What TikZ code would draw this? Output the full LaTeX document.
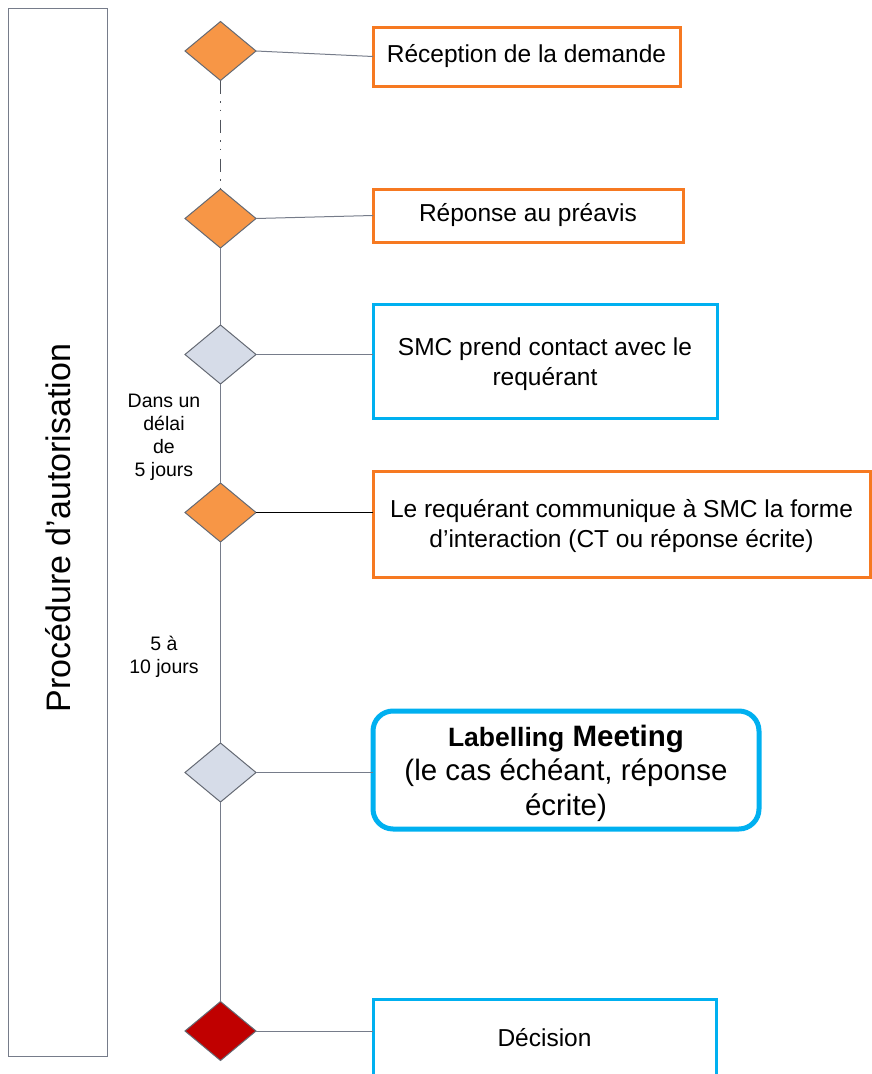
\documentclass[tikz,border=0pt]{standalone}
\usepackage{fontspec}
\setmainfont{Liberation Sans}
\usetikzlibrary{shapes.geometric}

\definecolor{stepline}{RGB}{246,121,33}
\definecolor{stepfill}{RGB}{247,150,70}
\definecolor{smcblue}{RGB}{0,176,240}
\definecolor{softgray}{RGB}{214,220,232}
\definecolor{decisionred}{RGB}{192,0,0}
\definecolor{wire}{RGB}{118,124,138}
\definecolor{rim}{RGB}{100,105,115}

\begin{document}
\begin{tikzpicture}[x=1pt,y=-1pt,
  every node/.style={inner sep=0pt, outer sep=0pt, text=black},
  lane/.style={draw=wire, line width=1pt, fill=white},
  boxtext/.style={font=\fontsize{24.5}{30}\selectfont, align=center},
  orangebox/.style={boxtext, draw=stepline, line width=3pt, fill=white},
  bluebox/.style={boxtext, draw=smcblue, line width=3pt, fill=white},
  dmd/.style={shape=diamond, draw=rim, line width=1pt, minimum width=71pt, minimum height=59pt},
  dmdorange/.style={dmd, fill=stepfill},
  dmdgray/.style={dmd, fill=softgray},
  dmdred/.style={dmd, fill=decisionred},
  link/.style={draw=wire, line width=1pt},
  delay/.style={font=\fontsize{19.5}{23}\selectfont, align=center},
]
\useasboundingbox (0,0) rectangle (872,1074);

% swimlane on the left
\node[lane, minimum width=99pt, minimum height=1048pt] (lane) at (57.5,532) {};
\node[rotate=90, font=\fontsize{34}{40}\selectfont] (title) at (58.5,528) {Procédure d’autorisation};

% milestones
\node[dmdorange] (d1) at (220.5,51) {};
\node[dmdorange] (d2) at (220.5,218.5) {};
\node[dmdgray]   (d3) at (220.5,354.5) {};
\node[dmdorange] (d4) at (220.5,512.5) {};
\node[dmdgray]   (d5) at (220.5,772.5) {};
\node[dmdred]    (d6) at (220.5,1031) {};

% timeline
\draw[draw=rim!80!black, line width=1.5pt,
      dash pattern=on 13pt off 7.5pt on 1.5pt off 7pt on 1.5pt off 8.5pt]
  (d1.south) -- (d2.north);
\draw[link] (d2.south) -- (d3.north);
\draw[link] (d3.south) -- (d4.north);
\draw[link] (d4.south) -- (d5.north);
\draw[link] (d5.south) -- (d6.north);

% steps
\node[orangebox, minimum width=307pt, minimum height=59pt] (b1) at (526.5,56.5) {Réception de la demande};
\node[orangebox, minimum width=310pt, minimum height=53pt] (b2) at (528,215.5) {Réponse au préavis};
\node[bluebox, minimum width=344pt, minimum height=114pt] (b3) at (545,361) {};
\node[boxtext] (b3text) at (545,364) {SMC prend contact avec le\\requérant};
\node[orangebox, minimum width=497pt, minimum height=106pt] (b4) at (621.5,524) {};
\node[boxtext] (b4text) at (621.5,526) {Le requérant communique à SMC la forme\\d’interaction (CT ou réponse écrite)};
\node[bluebox, line width=5pt, rounded corners=20pt, minimum width=386pt, minimum height=118pt] (b5) at (566,770) {};
\node[align=center, font=\fontsize{29.5}{34.5}\selectfont] (b5text) at (566,773)
  {\textbf{\fontsize{26.5}{34.5}\selectfont Labelling} \textbf{Meeting}\\(le cas échéant, réponse\\écrite)};
\node[bluebox, minimum width=343pt, minimum height=78pt] (b6) at (544.5,1038) {Décision};

% links from milestones to steps
\draw[link] (d1.east) -- (b1.west);
\draw[link] (d2.east) -- (b2.west);
\draw[link] (d3.east) -- (d3.east -| b3.west);
\draw[draw=black, line width=1pt] (d4.east) -- (d4.east -| b4.west);
\draw[link] (d5.east) -- (d5.east -| b5.west);
\draw[link] (d6.east) -- (d6.east -| b6.west);

% delays
\node[delay] (t1) at (164,437) {Dans un\\délai\\de\\5 jours};
\node[delay] (t2) at (164,657) {5 à\\10 jours};
\end{tikzpicture}
\end{document}
